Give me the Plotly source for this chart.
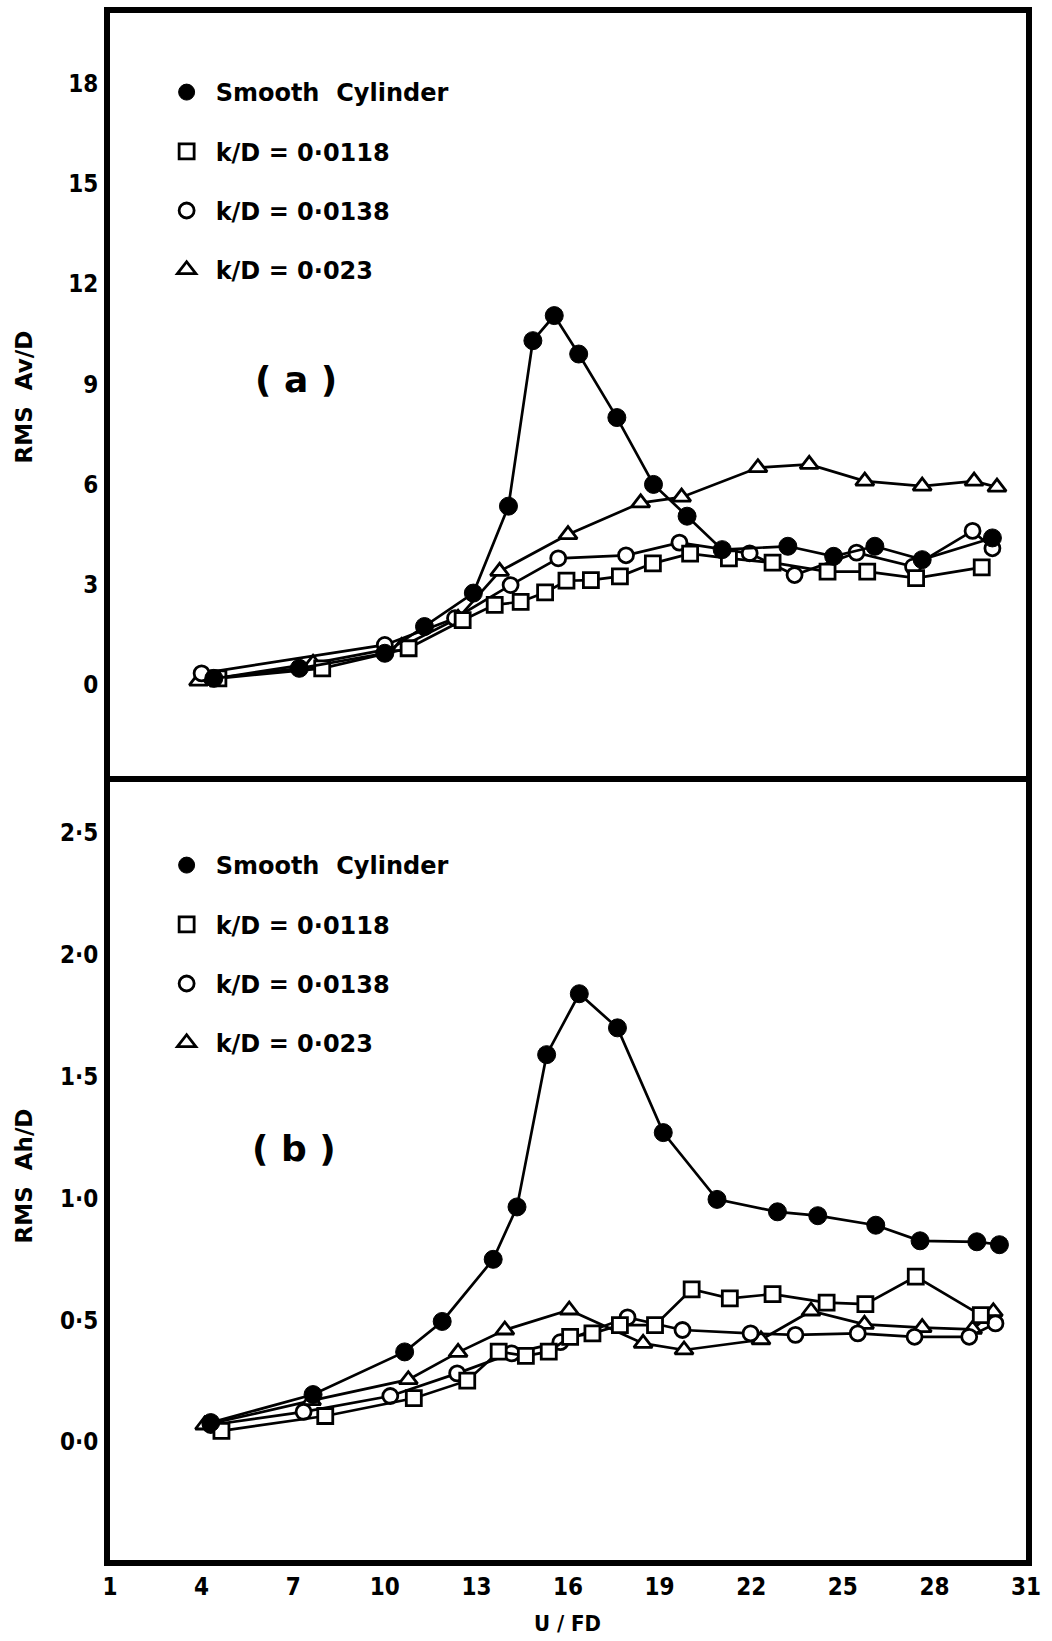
import plotly.graph_objects as go

# ---------------- data : panel (a)  RMS Av/D ----------------
smooth_a_x = [4.4, 7.2, 10.0, 11.3, 12.9, 14.05, 14.85, 15.55, 16.35, 17.6, 18.8, 19.9, 21.05, 23.2, 24.7, 26.05, 27.6, 29.9]
smooth_a_y = [0.2, 0.5, 0.95, 1.75, 2.75, 5.35, 10.3, 11.05, 9.9, 8.0, 6.0, 5.05, 4.05, 4.15, 3.85, 4.15, 3.75, 4.4]

sq_a_x = [4.55, 7.95, 10.78, 12.55, 13.6, 14.45, 15.25, 15.95, 16.75, 17.7, 18.78, 20.0, 21.27, 22.7, 24.5, 25.8, 27.4, 29.55]
sq_a_y = [0.2, 0.5, 1.1, 1.94, 2.4, 2.49, 2.77, 3.12, 3.14, 3.25, 3.64, 3.93, 3.79, 3.66, 3.39, 3.39, 3.2, 3.52]

circ_a_x = [4.0, 10.0, 12.3, 14.12, 15.68, 17.9, 19.65, 21.95, 23.42, 25.45, 27.3, 29.25, 29.9]
circ_a_y = [0.35, 1.2, 2.0, 2.99, 3.79, 3.88, 4.26, 3.94, 3.29, 3.96, 3.54, 4.61, 4.09]

tri_a_x = [3.9, 7.65, 10.55, 12.4, 13.76, 16.0, 18.38, 19.72, 22.22, 23.9, 25.72, 27.6, 29.3, 30.05]
tri_a_y = [0.12, 0.65, 1.15, 2.0, 3.4, 4.5, 5.45, 5.62, 6.5, 6.6, 6.1, 5.95, 6.1, 5.92]

# ---------------- data : panel (b)  RMS Ah/D ----------------
smooth_b_x = [4.3, 7.65, 10.65, 11.88, 13.55, 14.33, 15.3, 16.37, 17.62, 19.12, 20.88, 22.86, 24.18, 26.08, 27.53, 29.39, 30.13]
smooth_b_y = [0.08, 0.195, 0.37, 0.495, 0.75, 0.965, 1.59, 1.84, 1.70, 1.27, 0.996, 0.945, 0.929, 0.89, 0.826, 0.822, 0.81]

sq_b_x = [4.65, 8.05, 10.95, 12.7, 13.73, 14.62, 15.37, 16.07, 16.8, 17.7, 18.85, 20.05, 21.3, 22.7, 24.47, 25.74, 27.39, 29.52]
sq_b_y = [0.046, 0.107, 0.18, 0.252, 0.371, 0.354, 0.371, 0.432, 0.446, 0.48, 0.48, 0.627, 0.59, 0.607, 0.572, 0.566, 0.679, 0.521]

circ_b_x = [4.3, 7.34, 10.18, 12.37, 14.16, 15.75, 17.95, 19.75, 21.98, 23.45, 25.49, 27.35, 29.14, 30.0]
circ_b_y = [0.07, 0.124, 0.189, 0.282, 0.364, 0.41, 0.512, 0.46, 0.446, 0.44, 0.446, 0.432, 0.432, 0.487]

tri_b_x = [4.1, 7.6, 10.77, 12.4, 13.93, 16.04, 18.46, 19.8, 22.32, 23.96, 25.71, 27.6, 29.25, 29.93]
tri_b_y = [0.07, 0.17, 0.256, 0.368, 0.46, 0.542, 0.405, 0.378, 0.42, 0.538, 0.483, 0.47, 0.463, 0.535]

# ---------------- labels / ticks ----------------
series_names = ["Smooth  Cylinder", "k/D = 0·0118", "k/D = 0·0138", "k/D = 0·023"]
x_ticks = [1, 4, 7, 10, 13, 16, 19, 22, 25, 28, 31]
ya_ticks = [0, 3, 6, 9, 12, 15, 18]
yb_ticks = [0.0, 0.5, 1.0, 1.5, 2.0, 2.5]
yb_ticktext = ["0·0", "0·5", "1·0", "1·5", "2·0", "2·5"]

# ---------------- styling ----------------
W, H = 1052, 1641
ML, MR, MT, MB = 110, 11, 13, 81
PH = H - MT - MB
split = (H - MB - 782) / PH

TICKFONT = dict(family="DejaVu Sans Condensed", size=24, color="black", weight="bold")
LEGFONT = dict(family="DejaVu Sans", size=24, color="black", weight="bold")
LW = 2.7

styles = [
    dict(symbol="circle", size=18, color="black", line=dict(color="black", width=1)),
    dict(symbol="square", size=15, color="white", line=dict(color="black", width=2.8)),
    dict(symbol="circle", size=15, color="white", line=dict(color="black", width=2.8)),
    dict(symbol="triangle-up", size=16, color="white", line=dict(color="black", width=2.8)),
]

fig = go.Figure()

panels = [
    ("x2", "y2", "legend", [(smooth_a_x, smooth_a_y), (sq_a_x, sq_a_y), (circ_a_x, circ_a_y), (tri_a_x, tri_a_y)]),
    ("x", "y", "legend2", [(smooth_b_x, smooth_b_y), (sq_b_x, sq_b_y), (circ_b_x, circ_b_y), (tri_b_x, tri_b_y)]),
]

draw_order = [3, 2, 1, 0]
for xa, ya, leg, data in panels:
    for i in draw_order:
        xs, ys = data[i]
        fig.add_trace(go.Scatter(
            x=xs, y=ys, mode="lines+markers", xaxis=xa, yaxis=ya,
            line=dict(color="black", width=LW),
            marker=styles[i], showlegend=False, cliponaxis=False, hoverinfo="x+y"))
    for i in range(4):
        fig.add_trace(go.Scatter(
            x=[None], y=[None], mode="markers", xaxis=xa, yaxis=ya,
            name=series_names[i], marker=styles[i], legend=leg,
            legendgroup=leg + str(i), showlegend=True))

axis_common = dict(showgrid=False, zeroline=False, linecolor="black", linewidth=6,
                   ticks="", tickfont=TICKFONT, range=[1, 31])

fig.update_layout(
    width=W, height=H,
    margin=dict(l=ML, r=MR, t=MT, b=MB),
    paper_bgcolor="white", plot_bgcolor="white",
    xaxis=dict(**axis_common, anchor="y", showline=True, mirror=True,
               tickvals=x_ticks, ticklabelstandoff=0),
    xaxis2=dict(**axis_common, anchor="y2", matches="x", showline=True, mirror=False,
                side="top", showticklabels=False),
    yaxis=dict(domain=[0, split], range=[-0.484, 2.709], showgrid=False, zeroline=False,
               showline=True, mirror=True, linecolor="black", linewidth=6, ticks="",
               tickvals=yb_ticks, ticktext=yb_ticktext, tickfont=TICKFONT,
               ticklabelstandoff=1),
    yaxis2=dict(domain=[split, 1], range=[-2.9, 20.1], showgrid=False, zeroline=False,
                showline=True, mirror=True, linecolor="black", linewidth=6, ticks="",
                tickvals=ya_ticks, tickfont=TICKFONT, ticklabelstandoff=1),
    legend=dict(x=0.052, y=(H - MB - 70) / PH, xanchor="left", yanchor="top",
                bgcolor="rgba(0,0,0,0)", font=LEGFONT, itemwidth=48,
                tracegroupgap=25, traceorder="grouped"),
    legend2=dict(x=0.052, y=(H - MB - 843) / PH, xanchor="left", yanchor="top",
                 bgcolor="rgba(0,0,0,0)", font=LEGFONT, itemwidth=48,
                 tracegroupgap=25, traceorder="grouped"),
    showlegend=True,
)

def px_x(X):
    return (X - ML) / (W - ML - MR)

def px_y(Y):
    return (H - MB - Y) / PH

def label(X, Y, text, size, angle=0, family="DejaVu Sans"):
    fig.add_annotation(x=px_x(X), y=px_y(Y), xref="paper", yref="paper", text=text,
                       xanchor="center", yanchor="middle", textangle=angle,
                       showarrow=False,
                       font=dict(family=family, color="black", weight="bold", size=size))

label(299, 379, "( a )", 36)
label(297, 1148, "( b )", 36)
label(23, 397, "RMS  Av/D", 23, angle=-90)
label(23, 1176, "RMS  Ah/D", 23, angle=-90)
label(575, 1623, "U / FD", 22, family="DejaVu Sans Condensed")

fig.write_html("out.html")
